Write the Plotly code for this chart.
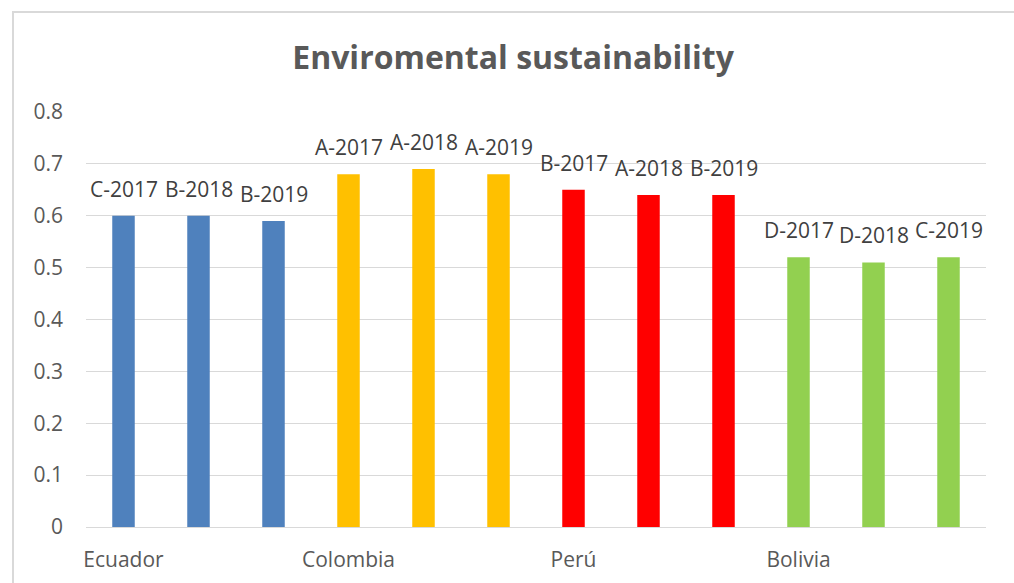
import plotly.graph_objects as go

countries = ["Ecuador", "Colombia", "Perú", "Bolivia"]
bar_labels = ["C-2017", "B-2018", "B-2019",
              "A-2017", "A-2018", "A-2019",
              "B-2017", "A-2018", "B-2019",
              "D-2017", "D-2018", "C-2019"]
values = [0.60, 0.60, 0.59,
          0.68, 0.69, 0.68,
          0.65, 0.64, 0.64,
          0.52, 0.51, 0.52]
country_colors = ["#4F81BD", "#FFC000", "#FF0000", "#92D050"]
y_ticks = [0, 0.1, 0.2, 0.3, 0.4, 0.5, 0.6, 0.7, 0.8]

n_per = len(bar_labels) // len(countries)
x = list(range(len(values)))
colors = [country_colors[i // n_per] for i in x]

fig = go.Figure(go.Bar(x=x, y=values, marker=dict(color=colors, line=dict(width=0)),
                       width=0.3, hoverinfo="y"))

FONT = "Open Sans, Liberation Sans, sans-serif"
annotations = [dict(x=xi, y=v, text=t, showarrow=False, xref="x", yref="y",
                    yanchor="bottom", yshift=11,
                    font=dict(family=FONT, size=21, color="#404040"))
               for xi, v, t in zip(x, values, bar_labels)]

fig.update_layout(
    width=1014, height=583,
    margin=dict(l=86, r=28, t=112, b=56),
    paper_bgcolor="white", plot_bgcolor="white",
    showlegend=False,
    title=dict(text="<b>Enviromental sustainability</b>", x=0.506, xanchor="center",
               y=1 - 58 / 583, yanchor="middle",
               font=dict(family=FONT, size=32, color="#595959")),
    annotations=annotations,
    xaxis=dict(range=[-0.5, len(values) - 0.5], automargin=False,
               tickvals=[i * n_per for i in range(len(countries))], ticktext=countries,
               showgrid=False, zeroline=False, showline=False, ticks="",
               ticklabelstandoff=18,
               tickfont=dict(family=FONT, size=21, color="#595959")),
    yaxis=dict(range=[0, 0.8], tickvals=y_ticks, automargin=False,
               ticktext=[("%g" % t) for t in y_ticks],
               showgrid=True, gridcolor="#D9D9D9", gridwidth=1,
               zeroline=True, zerolinecolor="#D9D9D9", zerolinewidth=1,
               showline=False, ticks="", ticklabelstandoff=22,
               tickfont=dict(family=FONT, size=21, color="#595959")),
    shapes=[dict(type="rect", xref="paper", yref="paper",
                 x0=(13 - 86) / 900, x1=1.2, y0=-0.3, y1=(527 - 12) / 415,
                 line=dict(color="#D9D9D9", width=2), layer="below")],
)

fig.write_html("out.html")
